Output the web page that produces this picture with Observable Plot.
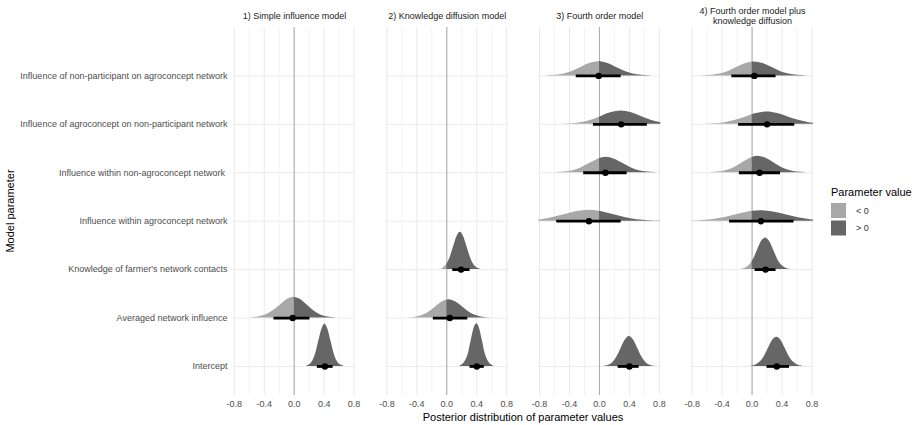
<!DOCTYPE html>
<html><head><meta charset="utf-8">
<script src="https://cdn.jsdelivr.net/npm/d3@7"></script>
<script src="https://cdn.jsdelivr.net/npm/@observablehq/plot@0.6"></script>
<style>body{margin:0;background:#fff}#chart{width:917px;height:425px}</style>
</head><body><div id="chart"></div>
<script>
// ---------- data ----------
const models = [
  "1) Simple influence model",
  "2) Knowledge diffusion model",
  "3) Fourth order model",
  "4) Fourth order model plus\nknowledge diffusion"
];
// parameters from top row to bottom row
const parameters = [
  "Influence of non-participant on agroconcept network",
  "Influence of agroconcept on non-participant network",
  "Influence within non-agroconcept network\u00a0",
  "Influence within agroconcept network",
  "Knowledge of farmer's network contacts",
  "Averaged network influence",
  "Intercept"
];
const xTicks = [-0.8, -0.4, 0, 0.4, 0.8];
const xMinor = [-0.6, -0.2, 0.2, 0.6];
const legendTitle = "Parameter value";
const legendLabels = ["< 0", "> 0"];
const xTitle = "Posterior distribution of parameter values";
const yTitle = "Model parameter";

// point intervals: [model, parameter, median, lower, upper]
const intervals = [
  [0, 5, -0.02, -0.27, 0.21],
  [0, 6, 0.41, 0.31, 0.52],
  [1, 4, 0.19, 0.08, 0.31],
  [1, 5, 0.04, -0.18, 0.28],
  [1, 6, 0.40, 0.31, 0.50],
  [2, 0, -0.01, -0.31, 0.29],
  [2, 1, 0.29, -0.08, 0.64],
  [2, 2, 0.08, -0.21, 0.37],
  [2, 3, -0.14, -0.57, 0.29],
  [2, 6, 0.40, 0.25, 0.53],
  [3, 0, 0.03, -0.27, 0.32],
  [3, 1, 0.20, -0.18, 0.57],
  [3, 2, 0.10, -0.17, 0.38],
  [3, 3, 0.12, -0.30, 0.56],
  [3, 4, 0.18, 0.04, 0.32],
  [3, 6, 0.33, 0.20, 0.50]
];

// density outlines: [x, height in row units]
const m1Averaged = [[-0.57,0.005],[-0.48,0.02],[-0.39,0.058],[-0.29,0.14],[-0.19,0.26],[-0.10,0.38],[0,0.43],[0.09,0.38],[0.18,0.26],[0.27,0.14],[0.36,0.058],[0.45,0.02],[0.55,0.005]];
const m1Intercept = [[0.17,0.01],[0.21,0.04],[0.25,0.12],[0.29,0.28],[0.33,0.53],[0.37,0.77],[0.41,0.87],[0.45,0.77],[0.49,0.53],[0.53,0.28],[0.57,0.12],[0.61,0.04],[0.66,0.01]];
const m2Knowledge = [[-0.07,0.005],[-0.045,0.034],[0,0.104],[0.045,0.25],[0.09,0.47],[0.135,0.68],[0.18,0.77],[0.225,0.68],[0.27,0.47],[0.315,0.25],[0.36,0.104],[0.405,0.034],[0.45,0.008]];
const m2Averaged = [[-0.51,0.004],[-0.42,0.017],[-0.33,0.051],[-0.24,0.12],[-0.15,0.23],[-0.06,0.33],[0,0.37],[0.03,0.38],[0.12,0.33],[0.21,0.23],[0.30,0.12],[0.39,0.051],[0.48,0.017],[0.57,0.004]];
const m2Intercept = [[0.175,0.01],[0.21,0.04],[0.25,0.12],[0.29,0.28],[0.325,0.53],[0.36,0.77],[0.40,0.88],[0.44,0.77],[0.475,0.53],[0.51,0.28],[0.55,0.12],[0.59,0.04],[0.625,0.01]];
const m3NonOnAgro = [[-0.70,0.003],[-0.585,0.013],[-0.47,0.04],[-0.355,0.096],[-0.24,0.18],[-0.125,0.26],[0,0.30],[0.105,0.26],[0.22,0.18],[0.335,0.096],[0.45,0.04],[0.565,0.013],[0.68,0.003]];
const m3AgroOnNon = [[-0.50,0.003],[-0.36,0.012],[-0.23,0.037],[-0.10,0.088],[0,0.148],[0.03,0.168],[0.16,0.242],[0.29,0.275],[0.42,0.242],[0.55,0.168],[0.68,0.088],[0.81,0.037],[0.94,0.012]];
const m3WithinNon = [[-0.57,0.003],[-0.46,0.014],[-0.35,0.043],[-0.24,0.103],[-0.13,0.195],[0,0.295],[0.09,0.32],[0.20,0.28],[0.31,0.195],[0.42,0.103],[0.53,0.043],[0.64,0.014],[0.75,0.003]];
const m3WithinAgro = [[-1.1,0.003],[-0.94,0.01],[-0.78,0.031],[-0.62,0.074],[-0.46,0.138],[-0.30,0.20],[-0.14,0.227],[0,0.206],[0.02,0.20],[0.18,0.138],[0.34,0.074],[0.50,0.031],[0.66,0.01],[0.82,0.003]];
const m3Intercept = [[0.07,0.007],[0.125,0.027],[0.18,0.084],[0.235,0.20],[0.29,0.376],[0.345,0.546],[0.40,0.62],[0.455,0.546],[0.51,0.376],[0.565,0.20],[0.62,0.084],[0.675,0.027],[0.73,0.007]];
const m4NonOnAgro = [[-0.66,0.003],[-0.545,0.013],[-0.43,0.039],[-0.315,0.093],[-0.20,0.177],[-0.085,0.255],[0,0.287],[0.03,0.29],[0.145,0.255],[0.26,0.177],[0.375,0.093],[0.49,0.039],[0.605,0.013],[0.72,0.003]];
const m4AgroOnNon = [[-0.64,0.003],[-0.50,0.011],[-0.36,0.034],[-0.22,0.082],[-0.08,0.154],[0,0.197],[0.06,0.224],[0.20,0.254],[0.34,0.224],[0.48,0.154],[0.62,0.082],[0.76,0.034],[0.90,0.011],[1.04,0.003]];
const m4WithinNon = [[-0.55,0.004],[-0.445,0.015],[-0.34,0.046],[-0.235,0.11],[-0.13,0.207],[0,0.316],[0.08,0.34],[0.185,0.30],[0.29,0.207],[0.395,0.11],[0.50,0.046],[0.605,0.015],[0.71,0.004]];
const m4WithinAgro = [[-0.87,0.003],[-0.705,0.01],[-0.54,0.029],[-0.375,0.07],[-0.21,0.132],[-0.045,0.19],[0,0.203],[0.12,0.217],[0.285,0.19],[0.45,0.132],[0.615,0.07],[0.78,0.029],[0.945,0.01],[1.11,0.003]];
const m4Knowledge = [[-0.145,0.007],[-0.09,0.029],[-0.036,0.088],[0,0.163],[0.018,0.21],[0.072,0.40],[0.126,0.578],[0.18,0.655],[0.234,0.578],[0.288,0.40],[0.342,0.21],[0.396,0.088],[0.45,0.029],[0.505,0.007]];
const m4Intercept = [[-0.015,0.007],[0,0.011],[0.045,0.027],[0.10,0.082],[0.16,0.195],[0.215,0.367],[0.27,0.533],[0.33,0.605],[0.39,0.533],[0.445,0.367],[0.50,0.195],[0.56,0.082],[0.615,0.027],[0.675,0.007]];

// which density belongs where: [model, parameter, outline]
const densityIndex = [
  [0, 5, m1Averaged], [0, 6, m1Intercept],
  [1, 4, m2Knowledge], [1, 5, m2Averaged], [1, 6, m2Intercept],
  [2, 0, m3NonOnAgro], [2, 1, m3AgroOnNon], [2, 2, m3WithinNon], [2, 3, m3WithinAgro], [2, 6, m3Intercept],
  [3, 0, m4NonOnAgro], [3, 1, m4AgroOnNon], [3, 2, m4WithinNon], [3, 3, m4WithinAgro], [3, 4, m4Knowledge], [3, 6, m4Intercept]
];

const colNeg = "#a8a8a8", colPos = "#666666";

// ---------- tables for the library ----------
const rowOf = p => parameters.length - p; // top row = 7, bottom = 1
const negRows = [], posRows = [];
densityIndex.forEach(([m, p, pts], k) => {
  pts.forEach(([x, h]) => {
    const rec = {key: k, model: models[m], x, base: rowOf(p), top: rowOf(p) + h};
    if (x <= 0) negRows.push(rec);
    if (x >= 0) posRows.push(rec);
  });
});
const ivTable = intervals.map(([m, p, med, lo, hi]) => ({model: models[m], row: rowOf(p), med, lo, hi}));

const font = "'Liberation Sans', Arial, sans-serif";

const svg = Plot.plot({
  width: 917, height: 425,
  marginLeft: 233, marginRight: 104, marginTop: 27, marginBottom: 30,
  style: {fontFamily: font, fontSize: "9px", color: "#4d4d4d", background: "#fff"},
  fx: {domain: models, axis: null, paddingInner: 0.2, paddingOuter: 0, round: false, label: null},
  x: {domain: [-0.81, 0.82], label: null},
  y: {domain: [0.4, 8.0], label: null},
  marks: [
    Plot.gridX(xMinor, {stroke: "#f0f0f0", strokeOpacity: 1, strokeWidth: 0.8}),
    Plot.gridX(xTicks, {stroke: "#e9e9e9", strokeOpacity: 1}),
    Plot.gridY([1,2,3,4,5,6,7], {stroke: "#ebebeb", strokeOpacity: 1}),
    Plot.ruleX([0], {stroke: "#aaaaaa", strokeWidth: 1}),
    Plot.areaY(negRows, {fx: "model", x: "x", y1: "base", y2: "top", z: "key", fill: colNeg, curve: "monotone-x", clip: true}),
    Plot.areaY(posRows, {fx: "model", x: "x", y1: "base", y2: "top", z: "key", fill: colPos, curve: "monotone-x", clip: true}),
    Plot.ruleY(ivTable, {fx: "model", y: "row", x1: "lo", x2: "hi", stroke: "#000", strokeWidth: 2.8}),
    Plot.dot(ivTable, {fx: "model", x: "med", y: "row", r: 3.2, fill: "#000", stroke: "none"}),
    Plot.axisY({ticks: [1,2,3,4,5,6,7], tickFormat: d => parameters[parameters.length - d], tickSize: 0, tickPadding: 6, facetAnchor: "left", label: null, fontSize: 9}),
    Plot.axisX({ticks: xTicks, tickFormat: d => d.toFixed(1), tickSize: 0, tickPadding: 5, label: null, fontSize: 9}),
    Plot.text(models, {fx: d => d, text: d => d, frameAnchor: "top", dy: -12, lineAnchor: "middle", fill: "#1a1a1a", fontSize: 9, lineHeight: 1.2})
  ]
});

const s = d3.select(svg);
s.append("text").attr("x", 523).attr("y", 417).attr("text-anchor", "middle").attr("dominant-baseline", "central")
  .attr("font-size", 11).attr("fill", "#000").attr("font-family", font).text(xTitle);
s.append("text").attr("transform", "translate(10,211) rotate(-90)").attr("text-anchor", "middle").attr("dominant-baseline", "central")
  .attr("font-size", 11).attr("fill", "#000").attr("font-family", font).text(yTitle);
const lg = s.append("g").attr("font-family", font).attr("text-anchor", "start");
lg.append("text").attr("x", 831).attr("y", 192).attr("text-anchor", "start").attr("dominant-baseline", "central").attr("font-size", 11).attr("fill", "#000").text(legendTitle);
[colNeg, colPos].forEach((c, i) => {
  lg.append("rect").attr("x", 831).attr("y", 203 + i * 17.5).attr("width", 15).attr("height", 15).attr("fill", c);
  lg.append("text").attr("x", 856).attr("y", 210.5 + i * 17.5).attr("text-anchor", "start").attr("dominant-baseline", "central").attr("font-size", 9).attr("fill", "#333").text(legendLabels[i]);
});

document.getElementById("chart").appendChild(svg);
</script>
</body></html>
